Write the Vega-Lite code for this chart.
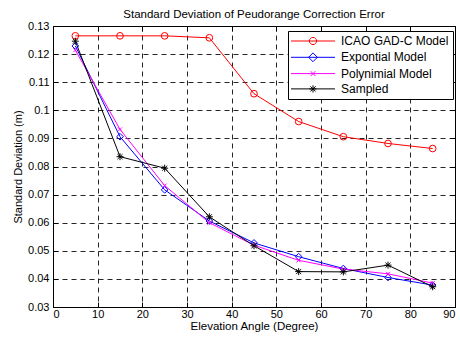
{
  "$schema": "https://vega.github.io/schema/vega-lite/v6.json",
  "width": 402,
  "height": 281,
  "autosize": {"type": "none"},
  "padding": {"left": 53, "top": 26, "right": 5, "bottom": 30},
  "background": "white",
  "title": {"text": "Standard Deviation of Peudorange Correction Error", "font": "Liberation Sans", "fontSize": 11.5, "fontWeight": "normal", "color": "#000", "offset": 0},
  "config": {
    "view": {"stroke": "#000", "strokeWidth": 1},
    "font": "Liberation Sans"
  },
  "data": {"values": [
    {"angle": 5, "value": 0.1265, "series": "ICAO GAD-C Model"},
    {"angle": 15, "value": 0.1265, "series": "ICAO GAD-C Model"},
    {"angle": 25, "value": 0.1265, "series": "ICAO GAD-C Model"},
    {"angle": 35, "value": 0.1258, "series": "ICAO GAD-C Model"},
    {"angle": 45, "value": 0.1059, "series": "ICAO GAD-C Model"},
    {"angle": 55, "value": 0.0960, "series": "ICAO GAD-C Model"},
    {"angle": 65, "value": 0.0906, "series": "ICAO GAD-C Model"},
    {"angle": 75, "value": 0.0882, "series": "ICAO GAD-C Model"},
    {"angle": 85, "value": 0.0864, "series": "ICAO GAD-C Model"},
    {"angle": 5, "value": 0.1229, "series": "Expontial Model"},
    {"angle": 15, "value": 0.0906, "series": "Expontial Model"},
    {"angle": 25, "value": 0.0717, "series": "Expontial Model"},
    {"angle": 35, "value": 0.0606, "series": "Expontial Model"},
    {"angle": 45, "value": 0.0528, "series": "Expontial Model"},
    {"angle": 55, "value": 0.0479, "series": "Expontial Model"},
    {"angle": 65, "value": 0.0437, "series": "Expontial Model"},
    {"angle": 75, "value": 0.0405, "series": "Expontial Model"},
    {"angle": 85, "value": 0.0378, "series": "Expontial Model"},
    {"angle": 5, "value": 0.1214, "series": "Polynimial Model"},
    {"angle": 15, "value": 0.0932, "series": "Polynimial Model"},
    {"angle": 25, "value": 0.0732, "series": "Polynimial Model"},
    {"angle": 35, "value": 0.0600, "series": "Polynimial Model"},
    {"angle": 45, "value": 0.0520, "series": "Polynimial Model"},
    {"angle": 55, "value": 0.0466, "series": "Polynimial Model"},
    {"angle": 65, "value": 0.0435, "series": "Polynimial Model"},
    {"angle": 75, "value": 0.0418, "series": "Polynimial Model"},
    {"angle": 85, "value": 0.0385, "series": "Polynimial Model"},
    {"angle": 5, "value": 0.1246, "series": "Sampled"},
    {"angle": 15, "value": 0.0835, "series": "Sampled"},
    {"angle": 25, "value": 0.0794, "series": "Sampled"},
    {"angle": 35, "value": 0.0621, "series": "Sampled"},
    {"angle": 45, "value": 0.0518, "series": "Sampled"},
    {"angle": 55, "value": 0.0426, "series": "Sampled"},
    {"angle": 65, "value": 0.0425, "series": "Sampled"},
    {"angle": 75, "value": 0.0449, "series": "Sampled"},
    {"angle": 85, "value": 0.0372, "series": "Sampled"}
  ]},
  "resolve": {"axis": {"x": "independent", "y": "independent"}},
  "layer": [
    {
      "mark": {"type": "line", "strokeWidth": 1},
      "encoding": {
        "x": {"field": "angle", "type": "quantitative", "scale": {"domain": [0, 90], "nice": false},
          "axis": {"title": "Elevation Angle (Degree)", "values": [0,10,20,30,40,50,60,70,80,90], "grid": true, "gridColor": "#000", "gridOpacity": 0.85, "gridDash": [5, 4], "domain": false, "tickSize": -5, "tickColor": "#000", "labelPadding": 6, "labelFontSize": 11, "labelColor": "#000", "titleFontSize": 11.5, "titleFontWeight": "normal", "titleColor": "#000", "titlePadding": 1, "labelFont": "Liberation Sans", "titleFont": "Liberation Sans"}},
        "y": {"field": "value", "type": "quantitative", "scale": {"domain": [0.03, 0.13], "nice": false, "zero": false},
          "axis": {"title": "Standard Deviation (m)", "values": [0.03,0.04,0.05,0.06,0.07,0.08,0.09,0.1,0.11,0.12,0.13], "format": "~g", "grid": true, "gridColor": "#000", "gridOpacity": 0.85, "gridDash": [5, 4], "domain": false, "tickSize": -5, "tickColor": "#000", "labelPadding": 9, "labelFontSize": 11, "labelColor": "#000", "titleFontSize": 11, "titleFontWeight": "normal", "titleColor": "#000", "titlePadding": 4, "labelFont": "Liberation Sans", "titleFont": "Liberation Sans"}},
        "color": {"field": "series", "type": "nominal",
          "scale": {"domain": ["ICAO GAD-C Model", "Expontial Model", "Polynimial Model", "Sampled"], "range": ["#ff0000", "#0000ff", "#ff00ff", "#000000"]},
          "legend": {"title": null, "orient": "none", "legendX": 235, "legendY": 5, "fillColor": "white", "strokeColor": "#000", "padding": 4, "rowPadding": 3.3, "labelFontSize": 12, "labelColor": "#000", "labelFont": "Liberation Sans", "symbolSize": 64, "labelOffset": 37,
            "encode": {"symbols": {"update": {
              "shape": {"signal": "datum.value == 'ICAO GAD-C Model' ? 'M-1.75,0L9.25,0M4.65,0A0.9,0.9 0 1,1 2.85,0A0.9,0.9 0 1,1 4.65,0' : datum.value == 'Expontial Model' ? 'M-1.75,0L9.25,0M3.75,-1.1L4.85,0L3.75,1.1L2.65,0Z' : datum.value == 'Polynimial Model' ? 'M-1.75,0L9.25,0M3.15,-0.6L4.35,0.6M3.15,0.6L4.35,-0.6' : 'M-1.75,0L9.25,0M3.75,-0.9L3.75,0.9M2.85,0L4.65,0M3.1,-0.65L4.4,0.65M3.1,0.65L4.4,-0.65'"},
              "fill": {"value": "transparent"},
              "strokeWidth": {"value": 1},
              "opacity": {"value": 1}
            }}}}
        }
      }
    },
    {
      "transform": [{"filter": "datum.series == 'ICAO GAD-C Model'"}],
      "mark": {"type": "point", "filled": false, "strokeWidth": 1, "opacity": 1, "color": "#ff0000", "shape": "circle", "size": 45},
      "encoding": {
        "x": {"field": "angle", "type": "quantitative", "axis": null},
        "y": {"field": "value", "type": "quantitative", "axis": null}
      }
    },
    {
      "transform": [{"filter": "datum.series == 'Expontial Model'"}],
      "mark": {"type": "point", "filled": false, "strokeWidth": 1, "opacity": 1, "color": "#0000ff", "shape": "diamond", "size": 45},
      "encoding": {
        "x": {"field": "angle", "type": "quantitative", "axis": null},
        "y": {"field": "value", "type": "quantitative", "axis": null}
      }
    },
    {
      "transform": [{"filter": "datum.series == 'Polynimial Model'"}],
      "mark": {"type": "point", "filled": false, "strokeWidth": 1, "opacity": 1, "color": "#ff00ff", "shape": "M-1,-1L1,1M-1,1L1,-1", "size": 16},
      "encoding": {
        "x": {"field": "angle", "type": "quantitative", "axis": null},
        "y": {"field": "value", "type": "quantitative", "axis": null}
      }
    },
    {
      "transform": [{"filter": "datum.series == 'Sampled'"}],
      "mark": {"type": "point", "filled": false, "strokeWidth": 1, "opacity": 1, "color": "#000000", "shape": "M0,-1L0,1M-1,0L1,0M-0.72,-0.72L0.72,0.72M-0.72,0.72L0.72,-0.72", "size": 49},
      "encoding": {
        "x": {"field": "angle", "type": "quantitative", "axis": null},
        "y": {"field": "value", "type": "quantitative", "axis": null}
      }
    },
    {
      "mark": {"type": "point", "opacity": 0},
      "encoding": {
        "x": {"field": "angle", "type": "quantitative",
          "axis": {"orient": "top", "title": null, "labels": false, "grid": false, "domain": false, "values": [0,10,20,30,40,50,60,70,80,90], "tickSize": -5, "tickColor": "#000"}},
        "y": {"field": "value", "type": "quantitative",
          "axis": {"orient": "right", "title": null, "labels": false, "grid": false, "domain": false, "values": [0.03,0.04,0.05,0.06,0.07,0.08,0.09,0.1,0.11,0.12,0.13], "tickSize": -5, "tickColor": "#000"}}
      }
    }
  ]
}
